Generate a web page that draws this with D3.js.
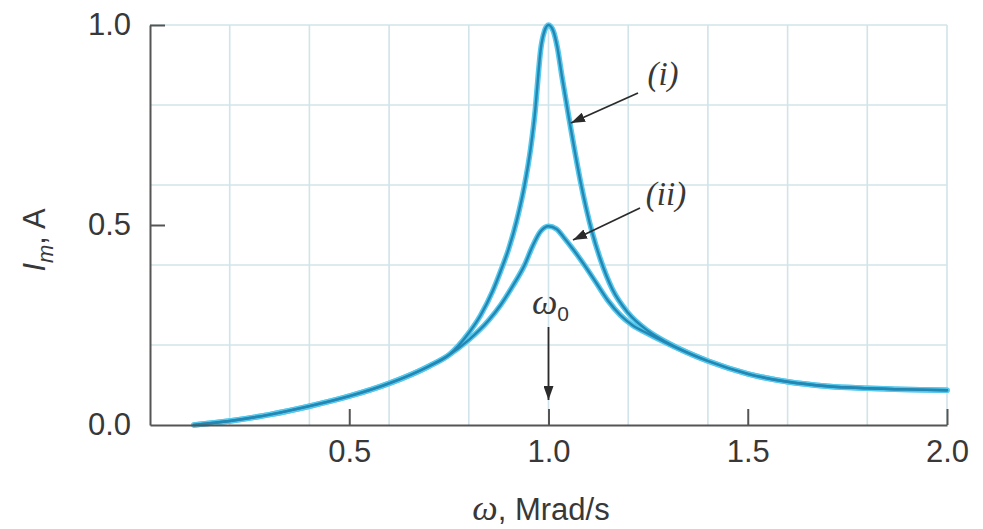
<!DOCTYPE html>
<html>
<head>
<meta charset="utf-8">
<script src="https://cdn.jsdelivr.net/npm/d3@7"></script>
<style>
  html, body { margin: 0; padding: 0; background: #ffffff; }
  svg { display: block; }
</style>
</head>
<body>
<svg id="chart" width="983" height="529"></svg>
<script>
// ---- data ----
const omegaI   = [0.11, 0.2, 0.3, 0.4, 0.5, 0.6, 0.7, 0.75, 0.8, 0.83, 0.86, 0.88, 0.9, 0.92, 0.94, 0.955, 0.967, 0.973, 0.98, 0.99, 1.0, 1.012, 1.022, 1.034, 1.05, 1.065, 1.08, 1.095, 1.11, 1.13, 1.16, 1.2, 1.25, 1.3, 1.4, 1.5, 1.6, 1.7, 1.8, 1.9, 2.0];
const currentI = [0.0, 0.01, 0.026, 0.047, 0.072, 0.104, 0.147, 0.175, 0.23, 0.275, 0.335, 0.385, 0.44, 0.51, 0.6, 0.69, 0.79, 0.86, 0.935, 0.985, 1.0, 0.985, 0.945, 0.87, 0.775, 0.69, 0.61, 0.54, 0.48, 0.415, 0.34, 0.28, 0.235, 0.205, 0.16, 0.128, 0.108, 0.097, 0.092, 0.089, 0.087];
const omegaII   = [0.11, 0.2, 0.3, 0.4, 0.5, 0.6, 0.7, 0.75, 0.8, 0.85, 0.88, 0.91, 0.94, 0.96, 0.98, 1.0, 1.02, 1.04, 1.063, 1.09, 1.12, 1.15, 1.18, 1.21, 1.25, 1.3, 1.4, 1.5, 1.6, 1.7, 1.8, 1.9, 2.0];
const currentII = [0.0, 0.01, 0.026, 0.047, 0.072, 0.104, 0.147, 0.175, 0.213, 0.262, 0.3, 0.347, 0.4, 0.447, 0.484, 0.497, 0.49, 0.467, 0.4375, 0.4, 0.355, 0.31, 0.275, 0.25, 0.228, 0.203, 0.16, 0.128, 0.108, 0.097, 0.092, 0.089, 0.087];
const xTicks = [0.5, 1.0, 1.5, 2.0];
const yTicks = [0.0, 0.5, 1.0];
const xGrid = [0.2, 0.4, 0.6, 0.8, 1.0, 1.2, 1.4, 1.6, 1.8, 2.0];
const yGrid = [0.2, 0.4, 0.6, 0.8, 1.0];
const curveLabels = ["(i)", "(ii)"];
const resonance = 1.0;

// ---- drawing ----
const svg = d3.select("#chart");
const mLeft = 150, mRight = 947, mTop = 25, mBottom = 425;
const x = d3.scaleLinear().domain([0, 2]).range([mLeft, mRight]);
const y = d3.scaleLinear().domain([0, 1]).range([mBottom, mTop]);

const sans = "'Liberation Sans', Arial, Helvetica, sans-serif";
const serif = "'Liberation Serif', 'Times New Roman', serif";
const textCol = "#383838";
const axisCol = "#555555";

// grid
const grid = svg.append("g");
grid.selectAll("line.v").data(xGrid).join("line")
  .attr("x1", d => x(d)).attr("x2", d => x(d))
  .attr("y1", y(0)).attr("y2", y(1))
  .attr("stroke", "#d0e4e9").attr("stroke-width", 1.6);
grid.selectAll("line.h").data(yGrid).join("line")
  .attr("x1", x(0)).attr("x2", x(2))
  .attr("y1", d => y(d)).attr("y2", d => y(d))
  .attr("stroke", "#d0e4e9").attr("stroke-width", 1.6);

// curves
const line = d3.line().x(d => x(d[0])).y(d => y(d[1])).curve(d3.curveMonotoneX);
const seriesData = [
  d3.zip(omegaI, currentI),
  d3.zip(omegaII, currentII)
];
const curves = svg.append("g");
seriesData.forEach(s => {
  curves.append("path").datum(s).attr("d", line)
    .attr("fill", "none").attr("stroke", "#55c8ec").attr("stroke-width", 5.5)
    .attr("stroke-linecap", "round").attr("stroke-linejoin", "round");
});
seriesData.forEach(s => {
  curves.append("path").datum(s).attr("d", line)
    .attr("fill", "none").attr("stroke", "#2486b2").attr("stroke-width", 2.4)
    .attr("stroke-linecap", "round").attr("stroke-linejoin", "round");
});

// axes
const yAxis = d3.axisLeft(y).tickValues(yTicks).tickSize(-15).tickSizeOuter(0)
  .tickPadding(19).tickFormat(d3.format(".1f"));
const xAxis = d3.axisBottom(x).tickValues(xTicks).tickSize(-16).tickSizeOuter(0)
  .tickPadding(15).tickFormat(d3.format(".1f"));

const gy = svg.append("g").attr("transform", `translate(${mLeft},0)`).call(yAxis);
const gx = svg.append("g").attr("transform", `translate(0,${mBottom})`).call(xAxis);
[gx, gy].forEach(g => {
  g.select(".domain").attr("stroke", axisCol).attr("stroke-width", 2);
  g.selectAll(".tick line").attr("stroke", axisCol).attr("stroke-width", 2);
  g.selectAll(".tick text").attr("fill", textCol)
    .style("font-family", sans).style("font-size", "31px");
});
gy.selectAll(".tick").filter(d => d === 0).select("line").remove();

// axis titles
const xt = svg.append("text").attr("x", 541).attr("y", 520)
  .attr("text-anchor", "middle").attr("fill", textCol)
  .style("font-family", sans).style("font-size", "31px");
xt.append("tspan").style("font-family", serif).style("font-style", "italic").style("font-size", "36px").text("ω");
xt.append("tspan").text(", Mrad/s");

const yt = svg.append("text")
  .attr("transform", "translate(45,240) rotate(-90)")
  .attr("text-anchor", "middle").attr("fill", textCol)
  .style("font-family", sans).style("font-size", "31px");
yt.append("tspan").style("font-style", "italic").text("I");
yt.append("tspan").style("font-style", "italic").style("font-size", "22px").attr("dy", 8).text("m");
yt.append("tspan").attr("dy", -8).text(", A");

// arrow marker
const defs = svg.append("defs");
defs.append("marker").attr("id", "ah").attr("viewBox", "0 0 14 10")
  .attr("refX", 14).attr("refY", 5).attr("markerWidth", 14).attr("markerHeight", 10)
  .attr("markerUnits", "userSpaceOnUse").attr("orient", "auto")
  .append("path").attr("d", "M0,0 L14,5 L0,10 Z").attr("fill", "#2b2b2b");

// curve labels with arrows
const labelPos = [
  { tx: 663, ty: 85, from: [638, 93], to: [571, 123] },
  { tx: 666, ty: 205, from: [640, 208], to: [573, 240] }
];
curveLabels.forEach((t, i) => {
  const p = labelPos[i];
  svg.append("text").attr("x", p.tx).attr("y", p.ty).attr("text-anchor", "middle")
    .attr("fill", textCol).style("font-family", serif).style("font-style", "italic")
    .style("font-size", "33px").text(t);
  svg.append("line").attr("x1", p.from[0]).attr("y1", p.from[1])
    .attr("x2", p.to[0]).attr("y2", p.to[1])
    .attr("stroke", "#2b2b2b").attr("stroke-width", 1.8).attr("marker-end", "url(#ah)");
});

// omega_0 annotation
const w0 = svg.append("text").attr("x", x(resonance) + 2).attr("y", 314)
  .attr("text-anchor", "middle").attr("fill", textCol)
  .style("font-family", serif).style("font-style", "italic").style("font-size", "36px");
w0.append("tspan").text("ω");
w0.append("tspan").style("font-style", "normal").style("font-family", sans).style("font-size", "21px").attr("dy", 7).text("0");
svg.append("line").attr("x1", x(resonance)).attr("x2", x(resonance))
  .attr("y1", 327).attr("y2", 400)
  .attr("stroke", "#2b2b2b").attr("stroke-width", 1.8)
  .attr("marker-end", "url(#ah)");
</script>
</body>
</html>
